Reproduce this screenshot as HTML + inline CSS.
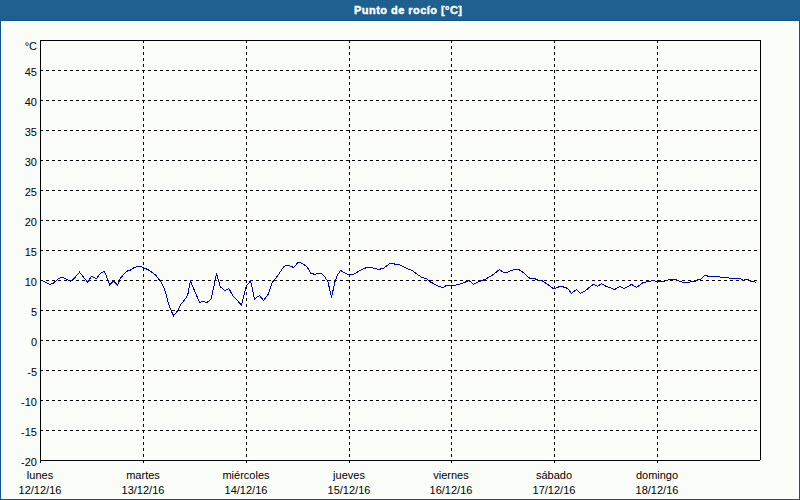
<!DOCTYPE html>
<html><head><meta charset="utf-8"><title>Punto de rocío</title>
<style>
html,body{margin:0;padding:0;width:800px;height:500px;overflow:hidden;background:#fbfdf9;}
body{position:relative;font-family:"Liberation Sans",sans-serif;}
</style></head><body>
<svg width="800" height="500" viewBox="0 0 800 500" style="position:absolute;left:0;top:0"><defs><pattern id="dith" x="0" y="0" width="8" height="4" patternUnits="userSpaceOnUse"><rect width="8" height="4" fill="#1e5f90"/><path d="M0 1h1v1h-1zM4 1h1v1h-1zM2 3h1v1h-1zM6 3h1v1h-1z" fill="#225fae"/></pattern></defs><rect x="0" y="0" width="800" height="20" fill="url(#dith)" shape-rendering="crispEdges"/><rect x="0" y="20" width="800" height="1" fill="#0e558e"/><rect x="0" y="20" width="1" height="480" fill="#0e558e"/><rect x="799" y="20" width="1" height="480" fill="#0e558e"/><rect x="0" y="499" width="800" height="1" fill="#0e558e"/><rect x="1" y="21" width="798" height="1" fill="#fff"/><rect x="1" y="21" width="1" height="478" fill="#fff"/><rect x="798" y="21" width="1" height="478" fill="#fff"/><rect x="1" y="498" width="798" height="1" fill="#fff"/><path d="M40 70.5H759 M40 100.5H759 M40 130.5H759 M40 160.5H759 M40 190.5H759 M40 220.5H759 M40 250.5H759 M40 280.5H759 M40 310.5H759 M40 340.5H759 M40 370.5H759 M40 400.5H759 M40 430.5H759 M143.5 40V463 M246.5 40V463 M349.5 40V463 M451.5 40V463 M554.5 40V463 M657.5 40V463" stroke="#000" stroke-width="1" stroke-dasharray="3 3" fill="none" shape-rendering="crispEdges"/><rect x="40" y="40" width="721" height="1" fill="#000"/><rect x="40" y="40" width="1" height="423" fill="#000"/><rect x="760" y="40" width="1" height="420" fill="#000"/><rect x="40" y="460" width="720" height="1" fill="#000"/><polyline points="43.5,281.5 50.0,284.4 53.3,283.3 58.5,278.4 61.7,277.3 64.1,278.1 70.1,281.2 72.9,279.5 75.7,276.7 79.5,272.1 82.0,275.3 87.6,282.3 91.4,276.3 96.3,278.8 100.5,273.2 104.0,271.4 105.7,273.9 107.8,279.8 109.6,285.1 113.4,280.9 117.6,285.1 120.4,278.1 123.6,274.6 126.4,271.4 130.6,270.0 134.8,267.2 139.0,266.2 142.5,267.2 149.0,270.2 155.6,275.0 159.2,279.8 162.2,284.0 165.2,291.2 169.4,306.8 173.6,315.8 177.8,310.4 180.8,304.4 186.2,297.8 188.0,293.6 190.4,281.0 194.0,289.4 199.5,302.4 202.2,301.5 207.2,302.4 211.2,298.8 213.9,286.2 216.6,273.6 220.2,286.6 224.7,290.7 228.8,288.4 232.8,295.6 241.4,305.0 246.3,285.7 250.4,281.2 252.0,287.0 254.5,299.0 259.5,295.5 263.5,300.5 268.0,294.5 272.5,282.0 276.0,278.0 284.0,266.5 288.0,265.0 293.5,267.5 298.0,262.5 301.0,263.0 305.5,265.5 307.5,267.5 310.5,273.0 315.0,274.5 318.0,273.3 321.5,273.8 325.0,277.0 328.0,282.0 331.5,297.5 335.0,281.5 337.5,275.0 340.5,270.5 345.0,273.0 349.5,275.0 354.0,274.0 360.0,270.5 366.5,267.5 372.0,267.8 375.0,268.5 378.5,269.5 383.5,268.3 390.0,263.5 393.0,263.2 395.0,264.3 398.5,264.5 402.0,266.0 408.0,269.0 412.0,270.5 419.0,275.5 422.0,277.5 426.5,278.5 430.5,282.0 439.0,286.5 443.0,287.5 447.0,285.0 456.0,285.0 462.0,283.5 469.0,280.5 473.5,284.3 479.0,281.5 485.0,279.5 490.0,276.5 494.0,274.0 499.5,269.5 503.5,272.5 507.0,272.5 511.0,270.5 515.0,269.3 518.5,269.5 522.0,271.5 530.0,278.5 534.5,278.5 538.0,280.3 542.5,281.0 547.0,284.0 554.0,289.0 560.0,286.3 565.0,287.3 567.5,288.5 571.5,293.3 576.5,289.5 580.5,293.3 584.0,291.5 587.5,289.0 591.5,285.5 594.0,284.3 597.5,286.5 601.5,283.7 606.5,286.5 610.0,287.5 614.5,289.5 620.0,286.5 624.0,288.5 627.0,287.2 631.5,284.3 636.5,287.5 643.0,282.5 647.0,281.8 650.5,281.3 653.0,280.5 658.0,281.8 665.0,281.0 670.0,279.3 675.0,279.3 679.0,281.0 683.0,282.3 688.0,282.3 695.0,281.3 697.5,280.0 700.5,279.3 704.5,275.3 706.5,275.3 708.0,276.3 719.5,276.3 720.5,277.3 728.5,277.3 729.5,278.3 740.5,278.5 743.0,280.3 745.5,279.3 748.0,279.3 751.0,281.3 754.0,281.5 756.0,282.5" fill="none" stroke="#0000cd" stroke-width="1" shape-rendering="crispEdges"/><text x="37" y="76" text-anchor="end" font-family="Liberation Sans, sans-serif" font-size="11" fill="#000">45</text><text x="37" y="106" text-anchor="end" font-family="Liberation Sans, sans-serif" font-size="11" fill="#000">40</text><text x="37" y="136" text-anchor="end" font-family="Liberation Sans, sans-serif" font-size="11" fill="#000">35</text><text x="37" y="166" text-anchor="end" font-family="Liberation Sans, sans-serif" font-size="11" fill="#000">30</text><text x="37" y="196" text-anchor="end" font-family="Liberation Sans, sans-serif" font-size="11" fill="#000">25</text><text x="37" y="226" text-anchor="end" font-family="Liberation Sans, sans-serif" font-size="11" fill="#000">20</text><text x="37" y="256" text-anchor="end" font-family="Liberation Sans, sans-serif" font-size="11" fill="#000">15</text><text x="37" y="286" text-anchor="end" font-family="Liberation Sans, sans-serif" font-size="11" fill="#000">10</text><text x="37" y="316" text-anchor="end" font-family="Liberation Sans, sans-serif" font-size="11" fill="#000">5</text><text x="37" y="346" text-anchor="end" font-family="Liberation Sans, sans-serif" font-size="11" fill="#000">0</text><text x="37" y="376" text-anchor="end" font-family="Liberation Sans, sans-serif" font-size="11" fill="#000">-5</text><text x="37" y="406" text-anchor="end" font-family="Liberation Sans, sans-serif" font-size="11" fill="#000">-10</text><text x="37" y="436" text-anchor="end" font-family="Liberation Sans, sans-serif" font-size="11" fill="#000">-15</text><text x="37" y="466" text-anchor="end" font-family="Liberation Sans, sans-serif" font-size="11" fill="#000">-20</text><text x="37" y="50" text-anchor="end" font-family="Liberation Sans, sans-serif" font-size="11" fill="#000">°C</text><text x="40" y="479" text-anchor="middle" font-family="Liberation Sans, sans-serif" font-size="11" fill="#000">lunes</text><text x="40" y="494" text-anchor="middle" font-family="Liberation Sans, sans-serif" font-size="11" fill="#000">12/12/16</text><text x="143" y="479" text-anchor="middle" font-family="Liberation Sans, sans-serif" font-size="11" fill="#000">martes</text><text x="143" y="494" text-anchor="middle" font-family="Liberation Sans, sans-serif" font-size="11" fill="#000">13/12/16</text><text x="246" y="479" text-anchor="middle" font-family="Liberation Sans, sans-serif" font-size="11" fill="#000">miércoles</text><text x="246" y="494" text-anchor="middle" font-family="Liberation Sans, sans-serif" font-size="11" fill="#000">14/12/16</text><text x="349" y="479" text-anchor="middle" font-family="Liberation Sans, sans-serif" font-size="11" fill="#000">jueves</text><text x="349" y="494" text-anchor="middle" font-family="Liberation Sans, sans-serif" font-size="11" fill="#000">15/12/16</text><text x="451" y="479" text-anchor="middle" font-family="Liberation Sans, sans-serif" font-size="11" fill="#000">viernes</text><text x="451" y="494" text-anchor="middle" font-family="Liberation Sans, sans-serif" font-size="11" fill="#000">16/12/16</text><text x="554" y="479" text-anchor="middle" font-family="Liberation Sans, sans-serif" font-size="11" fill="#000">sábado</text><text x="554" y="494" text-anchor="middle" font-family="Liberation Sans, sans-serif" font-size="11" fill="#000">17/12/16</text><text x="657" y="479" text-anchor="middle" font-family="Liberation Sans, sans-serif" font-size="11" fill="#000">domingo</text><text x="657" y="494" text-anchor="middle" font-family="Liberation Sans, sans-serif" font-size="11" fill="#000">18/12/16</text><text x="408" y="14" text-anchor="middle" textLength="108" lengthAdjust="spacing" font-family="Liberation Sans, sans-serif" font-size="11" font-weight="bold" fill="#fff" stroke="#fff" stroke-width="0.4">Punto de rocío [°C]</text></svg>
</body></html>
